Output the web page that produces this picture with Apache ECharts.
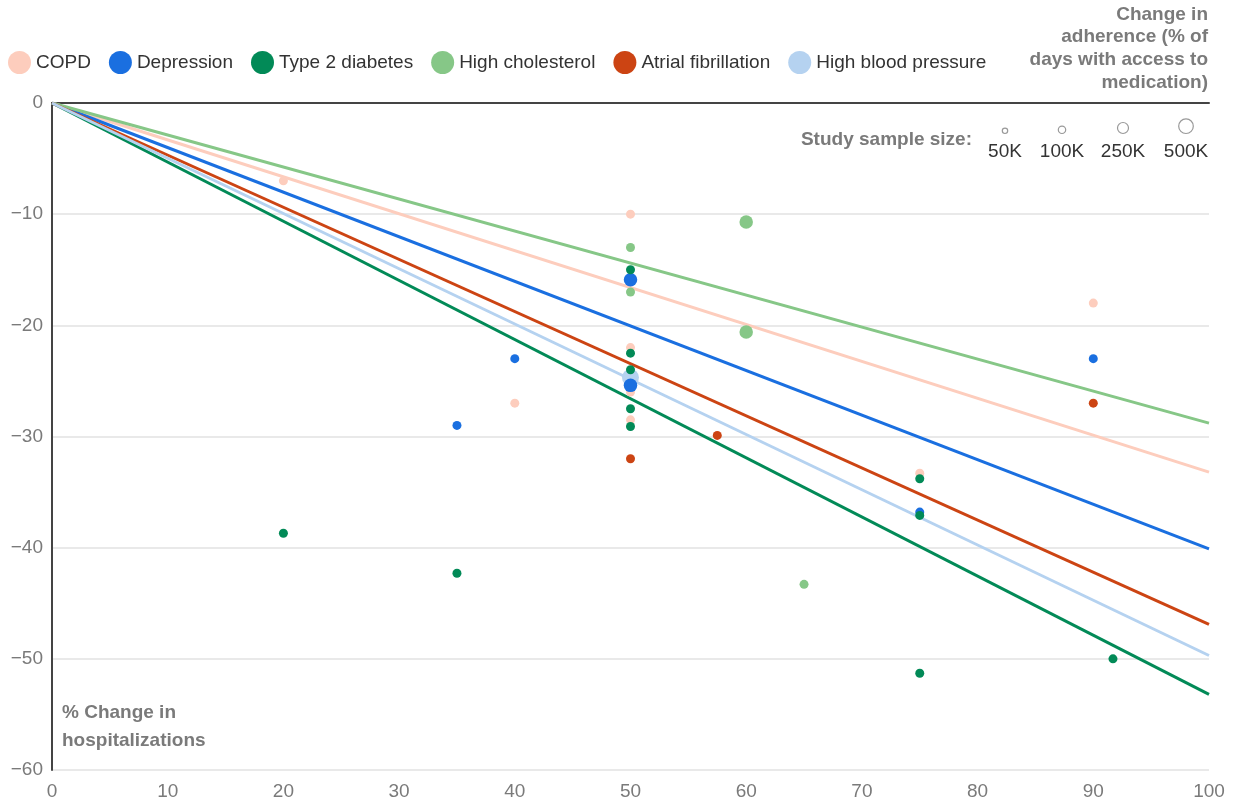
<!DOCTYPE html>
<html>
<head>
<meta charset="utf-8">
<script src="https://cdn.jsdelivr.net/npm/echarts@6/dist/echarts.min.js"></script>
<style>
html,body{margin:0;padding:0;background:#fff;}
#chart{width:1233px;height:803px;}
</style>
</head>
<body>
<div id="chart"></div>
<script>
// ---- Data ----
const seriesNames = ['COPD', 'Depression', 'Type 2 diabetes', 'High cholesterol', 'Atrial fibrillation', 'High blood pressure'];
// trend line value at 100% adherence change (lines start at 0,0)
const trendAt100 = [-33.2, -40.1, -53.2, -28.8, -46.9, -49.7];
// study points: [adherence change, hospitalization change, sample size (K)]
const copdPoints = [[20,-7,50],[40,-27,50],[50,-10,50],[50,-22,50],[50,-26,50],[50,-28.5,50],[75,-33.3,50],[90,-18,50]];
const depressionPoints = [[35,-29,50],[40,-23,50],[50,-15.9,250],[50,-25.4,250],[75,-36.8,50],[90,-23,50]];
const diabetesPoints = [[20,-38.7,50],[35,-42.3,50],[50,-15,50],[50,-22.5,50],[50,-24,50],[50,-27.5,50],[50,-29.1,50],[75,-33.8,50],[75,-37.1,50],[75,-51.3,50],[91.7,-50,50]];
const cholesterolPoints = [[50,-13,50],[50,-17,50],[60,-10.7,250],[60,-20.6,250],[65,-43.3,50]];
const afibPoints = [[50,-32,50],[57.5,-29.9,50],[90,-27,50]];
const bpPoints = [[50,-24.7,500]];
const xTicks = [0,10,20,30,40,50,60,70,80,90,100];
const yTicks = [0,-10,-20,-30,-40,-50,-60];
const sampleLegend = [50, 100, 250, 500];
const sampleLegendLabels = ['50K', '100K', '250K', '500K'];

// ---- Styles ----
const colors = ['#fdcdbd', '#1a6fe0', '#028a57', '#86c787', '#cc4413', '#b5d2f0'];
const allPoints = [copdPoints, depressionPoints, diabetesPoints, cholesterolPoints, afibPoints, bpPoints];
const scatterOrder = [0, 5, 1, 2, 3, 4];
const FONT = '"Liberation Sans", Arial, Helvetica, sans-serif';
const FS = 19;
function dotSize(k){ if(k>=500) return 17; if(k>=250) return 13.5; if(k>=100) return 11; return 9; }
function legendSize(k){ if(k>=500) return 14.6; if(k>=250) return 11; if(k>=100) return 7.4; return 5.4; }

const chart = echarts.init(document.getElementById('chart'), null, {renderer:'canvas'});

const series = [];
seriesNames.forEach((n,i)=>{
  series.push({
    name:n, type:'line', xAxisIndex:0, yAxisIndex:0,
    data:[[0,0],[100,trendAt100[i]]],
    symbol:'none', silent:true,
    lineStyle:{color:colors[i], width:3},
    itemStyle:{color:colors[i]}, z:2
  });
});
scatterOrder.forEach((i)=>{
  series.push({
    name:seriesNames[i], type:'scatter', xAxisIndex:0, yAxisIndex:0,
    data:allPoints[i],
    symbolSize:(v)=>dotSize(v[2]),
    itemStyle:{color:colors[i], opacity:1}, z:3
  });
});

// sample-size legend graphics
const sx = [1005, 1062, 1123, 1186];
const graphics = [
  {type:'text', x:1208, y:3, style:{text:'Change in\nadherence (% of\ndays with access to\nmedication)', font:'bold '+FS+'px '+FONT, fill:'#7a7a7a', align:'right', lineHeight:22.7}},
  {type:'text', x:972, y:130, style:{text:'Study sample size:', font:'bold '+FS+'px '+FONT, fill:'#7a7a7a', align:'right'}},
  {type:'text', x:62, y:699, style:{text:'% Change in\nhospitalizations', font:'bold '+FS+'px '+FONT, fill:'#7a7a7a', lineHeight:28}}
];
sampleLegend.forEach((k,i)=>{
  const r = legendSize(k)/2;
  graphics.push({type:'circle', shape:{cx:sx[i], cy:133.5-r, r:r}, style:{fill:'none', stroke:'#999', lineWidth:1.2}});
  graphics.push({type:'text', x:sx[i], y:142, style:{text:sampleLegendLabels[i], font:FS+'px '+FONT, fill:'#333', align:'center'}});
});

chart.setOption({
  animation:false,
  backgroundColor:'#fff',
  textStyle:{fontFamily:FONT},
  grid:{left:52, right:24, top:103, bottom:33, containLabel:false},
  legend:{
    data:seriesNames, icon:'circle', left:3, top:46, itemWidth:23, itemHeight:23, itemGap:18,
    textStyle:{fontSize:FS, color:'#333', fontFamily:FONT}
  },
  xAxis:[{
    type:'value', min:0, max:100, interval:10, position:'bottom',
    axisLine:{show:false, onZero:false}, axisTick:{show:false}, splitLine:{show:false},
    axisLabel:{fontSize:FS, color:'#7a7a7a', margin:12, fontFamily:FONT,
      customValues:xTicks}
  },{
    type:'value', min:0, max:100, position:'top',
    axisLine:{show:true, onZero:false, lineStyle:{color:'#444', width:2}}, axisTick:{show:false},
    axisLabel:{show:false}, splitLine:{show:false}
  }],
  yAxis:{
    type:'value', min:-60, max:0, interval:10,
    axisLine:{show:true, onZero:false, lineStyle:{color:'#444', width:2}}, axisTick:{show:false},
    splitLine:{show:true, lineStyle:{color:'#e2e2e2', width:1.5}},
    axisLabel:{fontSize:FS, color:'#7a7a7a', margin:9, fontFamily:FONT,
      customValues:yTicks,
      formatter:(v)=> v<0 ? '\u2212'+Math.abs(v) : String(v)}
  },
  graphic:graphics,
  series:series
});
</script>
</body>
</html>
